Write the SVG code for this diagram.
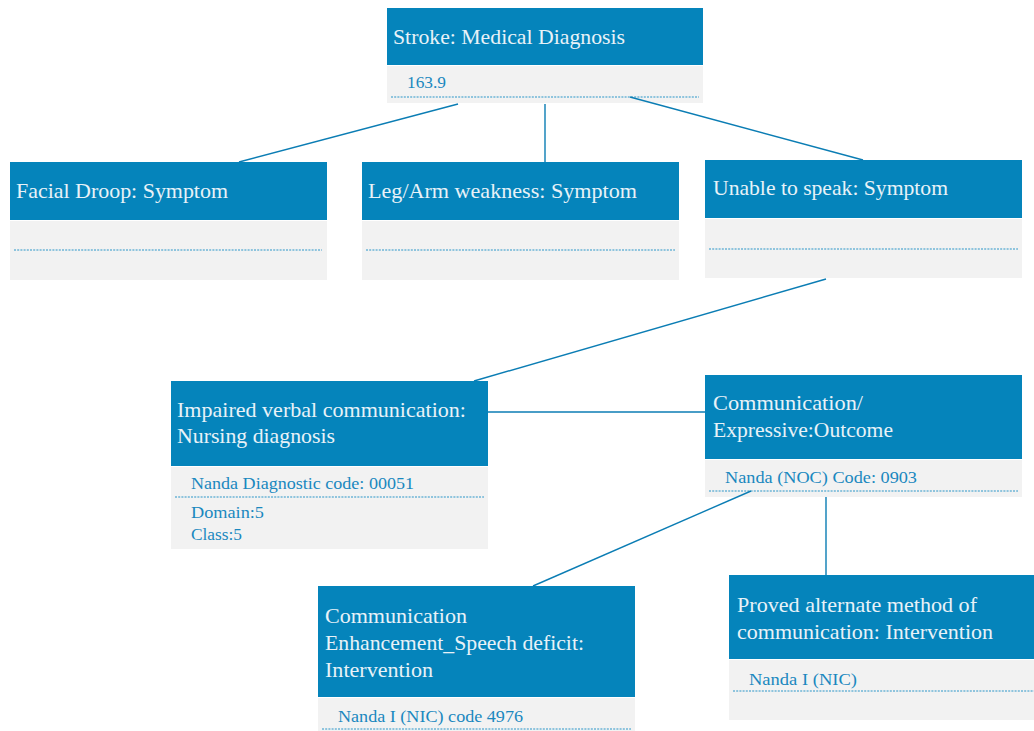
<svg xmlns="http://www.w3.org/2000/svg" width="1034" height="731" viewBox="0 0 1034 731">
<style>
.hd{fill:#0584bb;}
.bd{fill:#f2f2f2;}
.dot{stroke:#2a95c8;stroke-width:1.2;stroke-dasharray:2 1.2;fill:none;}
.ht{font-family:'Liberation Serif','DejaVu Serif','Times New Roman',serif;font-size:21.5px;fill:#e8f2f8;}
.bt{font-family:'Liberation Serif','DejaVu Serif','Times New Roman',serif;font-size:16.5px;fill:#1a88bf;}
.cn{stroke:#0b7db4;stroke-width:1.4;fill:none;}
</style>
<rect width="1034" height="731" fill="#ffffff"/>
<g id="stroke">
<rect class="hd" x="387" y="8" width="316" height="57"/>
<rect class="bd" x="387" y="66" width="316" height="37"/>
<line class="dot" x1="391" y1="97" x2="699" y2="97"/>
<text class="ht" x="393" y="44" textLength="232" lengthAdjust="spacingAndGlyphs">Stroke: Medical Diagnosis</text>
<text class="bt" x="407" y="88" textLength="39" lengthAdjust="spacingAndGlyphs">163.9</text>
</g>
<g id="facial">
<rect class="hd" x="10" y="162" width="317" height="58"/>
<rect class="bd" x="10" y="221" width="317" height="59"/>
<line class="dot" x1="14" y1="250" x2="322" y2="250"/>
<text class="ht" x="16" y="198" textLength="212" lengthAdjust="spacingAndGlyphs">Facial Droop: Symptom</text>
</g>
<g id="legarm">
<rect class="hd" x="362" y="162" width="317" height="58"/>
<rect class="bd" x="362" y="221" width="317" height="59"/>
<line class="dot" x1="366" y1="250" x2="675" y2="250"/>
<text class="ht" x="368" y="198" textLength="269" lengthAdjust="spacingAndGlyphs">Leg/Arm weakness: Symptom</text>
</g>
<g id="unable">
<rect class="hd" x="705" y="160" width="317" height="58"/>
<rect class="bd" x="705" y="219" width="317" height="59"/>
<line class="dot" x1="709" y1="249" x2="1018" y2="249"/>
<text class="ht" x="713" y="195" textLength="235" lengthAdjust="spacingAndGlyphs">Unable to speak: Symptom</text>
</g>
<g id="impaired">
<rect class="hd" x="171" y="381" width="317" height="85"/>
<rect class="bd" x="171" y="467" width="317" height="82"/>
<line class="dot" x1="175" y1="497" x2="484" y2="497"/>
<text class="ht" x="177" y="417" textLength="289" lengthAdjust="spacingAndGlyphs">Impaired verbal communication:</text>
<text class="ht" x="177" y="443" textLength="158" lengthAdjust="spacingAndGlyphs">Nursing diagnosis</text>
<text class="bt" x="191" y="489" textLength="223" lengthAdjust="spacingAndGlyphs">Nanda Diagnostic code: 00051</text>
<text class="bt" x="191" y="518" textLength="73" lengthAdjust="spacingAndGlyphs">Domain:5</text>
<text class="bt" x="191" y="540" textLength="51" lengthAdjust="spacingAndGlyphs">Class:5</text>
</g>
<g id="outcome">
<rect class="hd" x="705" y="375" width="317" height="84"/>
<rect class="bd" x="705" y="460" width="317" height="37"/>
<line class="dot" x1="709" y1="491" x2="1018" y2="491"/>
<text class="ht" x="713" y="410" textLength="150" lengthAdjust="spacingAndGlyphs">Communication/</text>
<text class="ht" x="713" y="437" textLength="180" lengthAdjust="spacingAndGlyphs">Expressive:Outcome</text>
<text class="bt" x="725" y="483" textLength="192" lengthAdjust="spacingAndGlyphs">Nanda (NOC) Code: 0903</text>
</g>
<g id="enhancement">
<rect class="hd" x="318" y="586" width="317" height="111"/>
<rect class="bd" x="318" y="698" width="317" height="40"/>
<line class="dot" x1="322" y1="729" x2="631" y2="729"/>
<text class="ht" x="325" y="623" textLength="142" lengthAdjust="spacingAndGlyphs">Communication</text>
<text class="ht" x="325" y="650" textLength="259" lengthAdjust="spacingAndGlyphs">Enhancement_Speech deficit:</text>
<text class="ht" x="325" y="677" textLength="108" lengthAdjust="spacingAndGlyphs">Intervention</text>
<text class="bt" x="338" y="722" textLength="185" lengthAdjust="spacingAndGlyphs">Nanda I (NIC) code 4976</text>
</g>
<g id="proved">
<rect class="hd" x="729" y="575" width="317" height="84"/>
<rect class="bd" x="729" y="660" width="317" height="60"/>
<line class="dot" x1="733" y1="691" x2="1042" y2="691"/>
<text class="ht" x="737" y="612" textLength="240" lengthAdjust="spacingAndGlyphs">Proved alternate method of</text>
<text class="ht" x="737" y="639" textLength="256" lengthAdjust="spacingAndGlyphs">communication: Intervention</text>
<text class="bt" x="749" y="685" textLength="108" lengthAdjust="spacingAndGlyphs">Nanda I (NIC)</text>
</g>
<g id="connectors">
<line class="cn" x1="458" y1="104" x2="239" y2="162"/>
<line class="cn" x1="545" y1="104" x2="545" y2="162"/>
<line class="cn" x1="630" y1="97" x2="863" y2="160"/>
<line class="cn" x1="826" y1="279" x2="474" y2="381"/>
<line class="cn" x1="488" y1="412" x2="705" y2="412"/>
<line class="cn" x1="751" y1="491" x2="533" y2="586"/>
<line class="cn" x1="826" y1="497" x2="826" y2="575"/>
</g>
</svg>
